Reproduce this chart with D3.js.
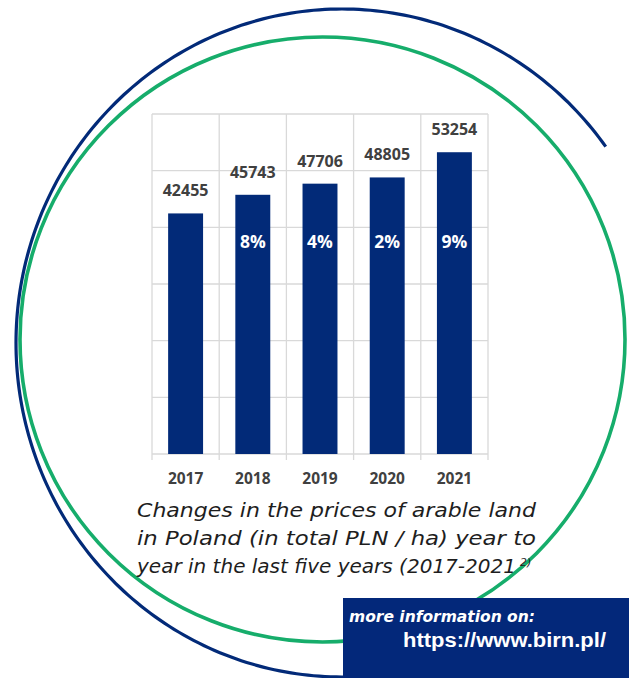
<!DOCTYPE html>
<html>
<head>
<meta charset="utf-8">
<script src="https://cdn.jsdelivr.net/npm/d3@7"></script>
<style>
  body { margin: 0; background: #fff; }
  svg { display: block; }
</style>
</head>
<body>
<svg id="chart" width="629" height="678"></svg>
<script>
var years = ["2017", "2018", "2019", "2020", "2021"];
var prices = [42455, 45743, 47706, 48805, 53254];
var growth = [null, 8, 4, 2, 9];
var yTicks = [0, 10000, 20000, 30000, 40000, 50000, 60000];
var captionLines = [
  "Changes in the prices of arable land",
  "in Poland (in total PLN / ha) year to",
  "year in the last five years (2017-2021"
];

var navy = "#022a78";
var green = "#16ad6b";
var gridColor = "#d9d9d9";

var svg = d3.select("#chart");

// decorative rings
var ellipse = { cx: 342, cy: 343, rx: 326, ry: 334 };
var arcPoints = d3.range(-36, -300, -1).map(function(a){
  var t = a * Math.PI / 180;
  return [ellipse.cx + ellipse.rx * Math.cos(t), ellipse.cy + ellipse.ry * Math.sin(t)];
});
svg.append("path")
  .attr("d", d3.line()(arcPoints))
  .attr("fill", "none")
  .attr("stroke", navy)
  .attr("stroke-width", 3.2);

svg.append("circle")
  .attr("cx", 322.5).attr("cy", 339.5).attr("r", 302.5)
  .attr("fill", "none")
  .attr("stroke", green)
  .attr("stroke-width", 3.6);

// chart
var x = d3.scaleBand()
  .domain(years)
  .range([152, 488])
  .paddingInner(0.48)
  .paddingOuter(0.24);

var y = d3.scaleLinear()
  .domain([0, 60000])
  .range([454, 114]);

var step = x.step();
var plot = svg.append("g");

plot.selectAll(".hgrid")
  .data(yTicks)
  .enter().append("line")
  .attr("class", "hgrid")
  .attr("x1", 152).attr("x2", 488)
  .attr("y1", function(d){ return y(d); })
  .attr("y2", function(d){ return y(d); })
  .attr("stroke", gridColor)
  .attr("stroke-width", 1.3);

var bounds = years.map(function(d){ return x(d) - step * 0.24; });
bounds.push(488);
plot.selectAll(".vgrid")
  .data(bounds)
  .enter().append("line")
  .attr("class", "vgrid")
  .attr("x1", function(d){ return d; })
  .attr("x2", function(d){ return d; })
  .attr("y1", y(60000))
  .attr("y2", y(0) + 6)
  .attr("stroke", gridColor)
  .attr("stroke-width", 1.3);

plot.selectAll(".bar")
  .data(prices)
  .enter().append("rect")
  .attr("class", "bar")
  .attr("x", function(d, i){ return x(years[i]); })
  .attr("y", function(d){ return y(d); })
  .attr("width", x.bandwidth())
  .attr("height", function(d){ return y(0) - y(d); })
  .attr("fill", navy);

plot.selectAll(".vlabel")
  .data(prices)
  .enter().append("text")
  .attr("class", "vlabel")
  .attr("x", function(d, i){ return x(years[i]) + x.bandwidth() / 2; })
  .attr("y", function(d){ return y(d) - 17; })
  .attr("text-anchor", "middle")
  .attr("font-family", "Open Sans")
  .attr("font-weight", 700)
  .attr("font-size", 16)
  .attr("fill", "#404040")
  .text(function(d){ return d; });

// growth labels, skipping the first year
var growthData = [];
growth.forEach(function(g, i){
  if (g !== null) growthData.push({ year: years[i], value: g });
});
plot.selectAll(".plabel")
  .data(growthData)
  .enter().append("text")
  .attr("class", "plabel")
  .attr("x", function(d){ return x(d.year) + x.bandwidth() / 2; })
  .attr("y", y(36300))
  .attr("text-anchor", "middle")
  .attr("font-family", "Open Sans")
  .attr("font-weight", 700)
  .attr("font-size", 17.5)
  .attr("fill", "#fff")
  .text(function(d){ return d.value + "%"; });

var xAxis = d3.axisBottom(x).tickSize(0).tickPadding(0);
var axisG = plot.append("g")
  .attr("transform", "translate(0," + y(0) + ")")
  .call(xAxis);
axisG.select(".domain").remove();
axisG.selectAll("text")
  .attr("dy", null)
  .attr("y", 30)
  .attr("font-family", "Open Sans")
  .attr("font-weight", 700)
  .attr("font-size", 15.5)
  .attr("fill", "#404040");

// caption
var caption = svg.append("g")
  .attr("font-family", "DejaVu Sans")
  .attr("font-style", "italic")
  .attr("font-size", 20)
  .attr("fill", "#1e1e1e");
caption.selectAll("text")
  .data(captionLines)
  .enter().append("text")
  .attr("x", 137)
  .attr("y", function(d, i){ return 517 + i * 27.8; })
  .attr("textLength", function(d, i){ return i < 2 ? 399 : 379; })
  .attr("lengthAdjust", "spacingAndGlyphs")
  .text(function(d){ return d; });
caption.append("text")
  .attr("x", 520)
  .attr("y", 566)
  .attr("font-size", 11)
  .text("2)");

// info box
svg.append("rect")
  .attr("x", 343).attr("y", 598)
  .attr("width", 286).attr("height", 80)
  .attr("fill", "#03287a");
svg.append("text")
  .attr("x", 349).attr("y", 622)
  .attr("font-family", "DejaVu Sans")
  .attr("font-style", "italic")
  .attr("font-weight", 700)
  .attr("font-size", 16)
  .attr("textLength", 186)
  .attr("lengthAdjust", "spacingAndGlyphs")
  .attr("fill", "#fff")
  .text("more information on:");
svg.append("text")
  .attr("x", 403).attr("y", 647)
  .attr("font-family", "Liberation Sans")
  .attr("font-weight", 700)
  .attr("font-size", 20)
  .attr("textLength", 203)
  .attr("lengthAdjust", "spacingAndGlyphs")
  .attr("fill", "#fff")
  .text("https://www.birn.pl/");
</script>
</body>
</html>
